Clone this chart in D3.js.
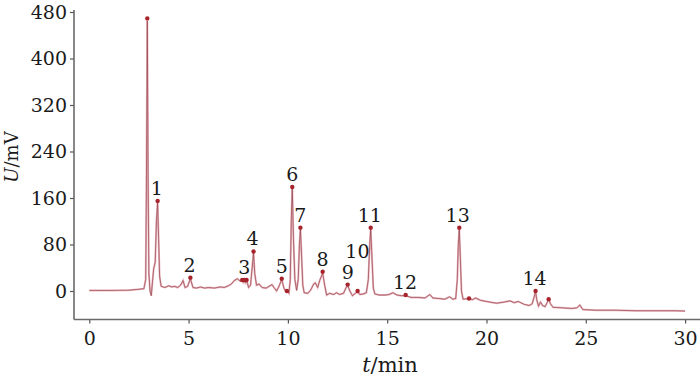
<!DOCTYPE html>
<html>
<head>
<meta charset="utf-8">
<script src="https://cdn.jsdelivr.net/npm/d3@7"></script>
<style>
  body { margin: 0; background: #fff; }
  svg { display: block; }
  text { font-family: "DejaVu Serif", "Liberation Serif", serif; fill: #1a1a1a; }
</style>
</head>
<body>
<div id="vis"></div>
<script>
const FRAME_WIDTH = 700;
const FRAME_HEIGHT = 376;

// chromatogram trace (t in min, U in mV)
const traceT = [0, 1.0, 2.0, 2.5, 2.75, 2.84, 2.88, 2.92, 2.96, 3.0, 3.06, 3.12, 3.18, 3.24, 3.32, 3.38, 3.44, 3.49, 3.54, 3.62,
  3.8, 4.0, 4.15, 4.3, 4.45, 4.6, 4.72, 4.82, 4.95, 5.09, 5.22, 5.4, 5.6, 5.8, 6.0, 6.3, 6.6, 6.8, 7.0, 7.15,
  7.3, 7.45, 7.6, 7.7, 7.75, 7.8, 7.86, 7.92, 8.02, 8.12, 8.2, 8.27, 8.33, 8.42, 8.55, 8.7, 8.9, 9.1, 9.2, 9.3,
  9.43, 9.55, 9.69, 9.8, 9.88, 9.95, 10.05, 10.12, 10.17, 10.22, 10.28, 10.35, 10.44, 10.52, 10.58, 10.63, 10.69, 10.75, 10.82, 11.0,
  11.15, 11.3, 11.38, 11.5, 11.6, 11.75, 11.85, 11.95, 12.1, 12.3, 12.45, 12.6, 12.8, 12.92, 13.01, 13.12, 13.25, 13.4, 13.51, 13.62,
  13.8, 13.95, 14.05, 14.12, 14.17, 14.23, 14.3, 14.38, 14.6, 14.9, 15.1, 15.28, 15.5, 15.7, 15.93, 16.2, 16.6, 16.9, 17.15, 17.3,
  17.6, 17.9, 18.14, 18.3, 18.45, 18.53, 18.58, 18.63, 18.68, 18.74, 18.82, 19.12, 19.3, 19.45, 19.7, 20.0, 20.5, 20.9, 21.18, 21.4,
  21.6, 21.9, 22.15, 22.3, 22.4, 22.47, 22.53, 22.62, 22.72, 22.82, 22.95, 23.05, 23.13, 23.22, 23.35, 23.8, 24.3, 24.55, 24.7, 24.85,
  25.5, 26.5, 27.5, 28.5, 29.5, 30.0];
const traceU = [1, 1, 1.5, 3, 4, 20, 200, 465, 200, 30, 0, -8, 15, 38, 50, 120, 153, 90, 25, 8,
  6, 9, 7, 8, 6, 10, 18, 6, 8, 21, 6, 5, 7, 5, 6, 5, 7, 6, 9, 12,
  18, 21, 17, 19, 15, 19, 14, 19, 6, 10, 40, 66, 30, 10, 12, 6, 5, 9, 11, 6,
  0, 8, 20, 5, 0, 1, -4, 20, 120, 178, 90, 20, 1, 20, 80, 107, 60, 10, -3, -4,
  2, 12, 14, 6, 18, 31, 10, -7, -4, -6, -3, -6, -4, 5, 10, 0, -8, -4, -1, -6,
  -5, -3, 20, 80, 107, 60, 5, -5, -7, -7, -6, -3, -7, -8, -8, -11, -11, -12, -6, -12,
  -13, -14, -10, -14, -13, 20, 80, 107, 60, 0, -14, -13, -15, -12, -16, -18, -21, -19, -17, -20,
  -18, -23, -25, -22, -10, -1, -15, -26, -19, -25, -27, -20, -14, -22, -28, -29, -30, -29, -24, -32,
  -33, -33, -34, -34, -34, -34.5];

// marked peak tops
const dotT = [2.92, 3.44, 5.09, 7.70, 7.80, 7.92, 8.27, 9.69, 9.95, 10.22, 10.63, 11.75, 13.01, 13.51, 14.17, 15.93, 18.63, 19.12, 22.47, 23.13];
const dotU = [469, 155, 23, 19, 19, 19, 68, 21, 0, 179, 109, 33, 11, 0, 109, -7, 109, -13, 0, -14];

// peak numbers and where they sit
const labelText = ["1", "2", "3", "4", "5", "6", "7", "8", "9", "10", "11", "12", "13", "14"];
const labelT = [3.40, 5.05, 7.80, 8.22, 9.69, 10.22, 10.63, 11.75, 13.01, 13.5, 14.12, 15.9, 18.55, 22.42];
const labelU = [155, 23, 19, 68, 21, 179, 109, 33, 11, 46, 109, -7, 109, 0];

const xTicks = [0, 5, 10, 15, 20, 25, 30];
const yTicks = [0, 80, 160, 240, 320, 400, 480];

const AXIS_LEFT = 74;
const AXIS_RIGHT = 700;
const AXIS_TOP = 10;
const AXIS_BOTTOM = 319.5;

const X_SCALE = d3.scaleLinear().domain([0, 30]).range([89.3, 685.1]);
const Y_SCALE = d3.scaleLinear().domain([0, 480]).range([291, 12]);

const FRAME = d3.select("#vis")
  .append("svg")
    .attr("width", FRAME_WIDTH)
    .attr("height", FRAME_HEIGHT);

// axes
const yAxis = FRAME.append("g")
  .attr("transform", "translate(" + AXIS_LEFT + ",0)")
  .call(d3.axisLeft(Y_SCALE).tickValues(yTicks).tickSize(4).tickSizeOuter(0).tickPadding(3));
yAxis.select(".domain").remove();
yAxis.selectAll(".tick line").attr("stroke", "#555").attr("stroke-width", 1.2);
yAxis.selectAll(".tick text").attr("font-size", 19).attr("fill", "#1a1a1a");

const xAxis = FRAME.append("g")
  .attr("transform", "translate(0," + AXIS_BOTTOM + ")")
  .call(d3.axisBottom(X_SCALE).tickValues(xTicks).tickSize(4).tickSizeOuter(0).tickPadding(8));
xAxis.select(".domain").remove();
xAxis.selectAll(".tick line").attr("stroke", "#555").attr("stroke-width", 1.2);
xAxis.selectAll(".tick text").attr("font-size", 19).attr("fill", "#1a1a1a");

FRAME.append("line")
  .attr("x1", AXIS_LEFT).attr("x2", AXIS_LEFT)
  .attr("y1", AXIS_TOP).attr("y2", AXIS_BOTTOM)
  .attr("stroke", "#6a6a6a").attr("stroke-width", 1.6);
FRAME.append("line")
  .attr("x1", AXIS_LEFT).attr("x2", AXIS_RIGHT)
  .attr("y1", AXIS_BOTTOM).attr("y2", AXIS_BOTTOM)
  .attr("stroke", "#6a6a6a").attr("stroke-width", 1.6);

// axis titles
const xTitle = FRAME.append("text")
  .attr("x", 390).attr("y", 372)
  .attr("text-anchor", "middle")
  .attr("font-size", 21);
xTitle.append("tspan").attr("font-style", "italic").text("t");
xTitle.append("tspan").text("/min");

const yTitle = FRAME.append("text")
  .attr("transform", "translate(18,157) rotate(-90)")
  .attr("text-anchor", "middle")
  .attr("font-size", 18);
yTitle.append("tspan").attr("font-style", "italic").text("U");
yTitle.append("tspan").text("/mV");

// trace
const points = traceT.map((t, i) => [t, traceU[i]]);
const line = d3.line()
  .x((d) => X_SCALE(d[0]))
  .y((d) => Y_SCALE(d[1]));

FRAME.append("path")
  .datum(points)
  .attr("d", line)
  .attr("fill", "none")
  .attr("stroke", "#eab6be")
  .attr("stroke-width", 2);

FRAME.append("path")
  .datum(points)
  .attr("d", line)
  .attr("fill", "none")
  .attr("stroke", "#8c3a42")
  .attr("stroke-width", 0.8)
  .attr("stroke-opacity", 0.8);

// peak dots
FRAME.selectAll(".dot")
  .data(dotT)
  .enter()
  .append("circle")
    .attr("class", "dot")
    .attr("cx", (d) => X_SCALE(d))
    .attr("cy", (d, i) => Y_SCALE(dotU[i]))
    .attr("r", 2.2)
    .attr("fill", "#a8242c");

// peak numbers
FRAME.selectAll(".plabel")
  .data(labelText)
  .enter()
  .append("text")
    .attr("class", "plabel")
    .attr("x", (d, i) => X_SCALE(labelT[i]))
    .attr("y", (d, i) => Y_SCALE(labelU[i]) - 6)
    .attr("text-anchor", "middle")
    .attr("font-size", 19)
    .text((d) => d);
</script>
</body>
</html>
